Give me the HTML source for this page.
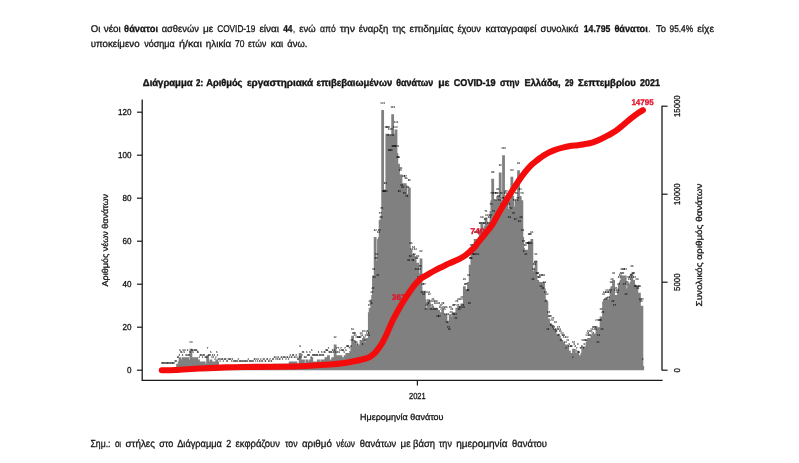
<!DOCTYPE html>
<html lang="el"><head><meta charset="utf-8"><title>Διάγραμμα 2</title>
<style>
html,body{margin:0;padding:0;background:#fff}
body{width:799px;height:463px;overflow:hidden;font-family:"Liberation Sans",sans-serif}
svg{display:block;will-change:transform;text-rendering:geometricPrecision;font-family:"Liberation Sans",sans-serif}
svg text{fill:#151515;stroke:#151515}
svg{stroke-width:.3px}
.lab text{font-size:2.8px;fill:#000;fill-opacity:.9;stroke:none;text-anchor:middle;font-weight:bold}
.red{fill:#e3122b;stroke:#e3122b;font-weight:bold}
</style></head><body>
<svg width="799" height="463" viewBox="0 0 799 463">
<rect width="799" height="463" fill="#fff"/>
<g><text x="90.7" y="32.0" font-size="9.8" font-weight="normal" textLength="9.6" lengthAdjust="spacingAndGlyphs">Οι</text><text x="103.7" y="32.0" font-size="9.8" font-weight="normal" textLength="17.1" lengthAdjust="spacingAndGlyphs">νέοι</text><text x="124.1" y="32.0" font-size="9.8" font-weight="bold" textLength="33.9" lengthAdjust="spacingAndGlyphs">θάνατοι</text><text x="161.7" y="32.0" font-size="9.8" font-weight="normal" textLength="37.2" lengthAdjust="spacingAndGlyphs">ασθενών</text><text x="203.0" y="32.0" font-size="9.8" font-weight="normal" textLength="10.3" lengthAdjust="spacingAndGlyphs">με</text><text x="217.2" y="32.0" font-size="9.8" font-weight="normal" textLength="38.1" lengthAdjust="spacingAndGlyphs">COVID-19</text><text x="259.4" y="32.0" font-size="9.8" font-weight="normal" textLength="19.7" lengthAdjust="spacingAndGlyphs">είναι</text><text x="283.2" y="32.0" font-size="9.8" font-weight="bold" textLength="9.3" lengthAdjust="spacingAndGlyphs">44</text><text x="293.2" y="32.0" font-size="9.8" font-weight="normal" textLength="1.6" lengthAdjust="spacingAndGlyphs">,</text><text x="299.3" y="32.0" font-size="9.8" font-weight="normal" textLength="16.4" lengthAdjust="spacingAndGlyphs">ενώ</text><text x="320.0" y="32.0" font-size="9.8" font-weight="normal" textLength="15.7" lengthAdjust="spacingAndGlyphs">από</text><text x="339.7" y="32.0" font-size="9.8" font-weight="normal" textLength="15.3" lengthAdjust="spacingAndGlyphs">την</text><text x="358.8" y="32.0" font-size="9.8" font-weight="normal" textLength="29.6" lengthAdjust="spacingAndGlyphs">έναρξη</text><text x="392.2" y="32.0" font-size="9.8" font-weight="normal" textLength="13.4" lengthAdjust="spacingAndGlyphs">της</text><text x="409.5" y="32.0" font-size="9.8" font-weight="normal" textLength="44.1" lengthAdjust="spacingAndGlyphs">επιδημίας</text><text x="457.4" y="32.0" font-size="9.8" font-weight="normal" textLength="23.6" lengthAdjust="spacingAndGlyphs">έχουν</text><text x="485.5" y="32.0" font-size="9.8" font-weight="normal" textLength="51.0" lengthAdjust="spacingAndGlyphs">καταγραφεί</text><text x="540.6" y="32.0" font-size="9.8" font-weight="normal" textLength="37.8" lengthAdjust="spacingAndGlyphs">συνολικά</text><text x="583.7" y="32.0" font-size="9.8" font-weight="bold" textLength="26.7" lengthAdjust="spacingAndGlyphs">14.795</text><text x="614.4" y="32.0" font-size="9.8" font-weight="bold" textLength="33.4" lengthAdjust="spacingAndGlyphs">θάνατοι</text><text x="648.6" y="32.0" font-size="9.8" font-weight="normal" textLength="1.6" lengthAdjust="spacingAndGlyphs">.</text><text x="656.0" y="32.0" font-size="9.8" font-weight="normal" textLength="10.0" lengthAdjust="spacingAndGlyphs">Το</text><text x="669.5" y="32.0" font-size="9.8" font-weight="normal" textLength="23.6" lengthAdjust="spacingAndGlyphs">95.4%</text><text x="697.2" y="32.0" font-size="9.8" font-weight="normal" textLength="16.9" lengthAdjust="spacingAndGlyphs">είχε</text><text x="90.7" y="47.0" font-size="9.8" font-weight="normal" textLength="48.9" lengthAdjust="spacingAndGlyphs">υποκείμενο</text><text x="144.2" y="47.0" font-size="9.8" font-weight="normal" textLength="30.6" lengthAdjust="spacingAndGlyphs">νόσημα</text><text x="178.9" y="47.0" font-size="9.8" font-weight="normal" textLength="22.9" lengthAdjust="spacingAndGlyphs">ή/και</text><text x="205.8" y="47.0" font-size="9.8" font-weight="normal" textLength="25.4" lengthAdjust="spacingAndGlyphs">ηλικία</text><text x="235.0" y="47.0" font-size="9.8" font-weight="normal" textLength="9.4" lengthAdjust="spacingAndGlyphs">70</text><text x="248.0" y="47.0" font-size="9.8" font-weight="normal" textLength="18.3" lengthAdjust="spacingAndGlyphs">ετών</text><text x="270.7" y="47.0" font-size="9.8" font-weight="normal" textLength="12.4" lengthAdjust="spacingAndGlyphs">και</text><text x="287.3" y="47.0" font-size="9.8" font-weight="normal" textLength="20.1" lengthAdjust="spacingAndGlyphs">άνω.</text><g stroke-width=".4"><text x="142.8" y="86.4" font-size="9.9" font-weight="bold" textLength="49.8" lengthAdjust="spacingAndGlyphs">Διάγραμμα</text><text x="196.0" y="86.4" font-size="9.9" font-weight="bold" textLength="7.1" lengthAdjust="spacingAndGlyphs">2:</text><text x="206.2" y="86.4" font-size="9.9" font-weight="bold" textLength="36.2" lengthAdjust="spacingAndGlyphs">Αριθμός</text><text x="246.9" y="86.4" font-size="9.9" font-weight="bold" textLength="66.3" lengthAdjust="spacingAndGlyphs">εργαστηριακά</text><text x="316.5" y="86.4" font-size="9.9" font-weight="bold" textLength="75.7" lengthAdjust="spacingAndGlyphs">επιβεβαιωμένων</text><text x="396.2" y="86.4" font-size="9.9" font-weight="bold" textLength="37.0" lengthAdjust="spacingAndGlyphs">θανάτων</text><text x="438.2" y="86.4" font-size="9.9" font-weight="bold" textLength="11.3" lengthAdjust="spacingAndGlyphs">με</text><text x="453.8" y="86.4" font-size="9.9" font-weight="bold" textLength="41.8" lengthAdjust="spacingAndGlyphs">COVID-19</text><text x="500.0" y="86.4" font-size="9.9" font-weight="bold" textLength="19.4" lengthAdjust="spacingAndGlyphs">στην</text><text x="524.4" y="86.4" font-size="9.9" font-weight="bold" textLength="36.3" lengthAdjust="spacingAndGlyphs">Ελλάδα,</text><text x="565.1" y="86.4" font-size="9.9" font-weight="bold" textLength="8.4" lengthAdjust="spacingAndGlyphs">29</text><text x="578.1" y="86.4" font-size="9.9" font-weight="bold" textLength="57.6" lengthAdjust="spacingAndGlyphs">Σεπτεμβρίου</text><text x="640.1" y="86.4" font-size="9.9" font-weight="bold" textLength="19.8" lengthAdjust="spacingAndGlyphs">2021</text></g><text x="90.5" y="446.8" font-size="10.2" font-weight="normal" textLength="20.0" lengthAdjust="spacingAndGlyphs">Σημ.:</text><text x="114.9" y="446.8" font-size="10.2" font-weight="normal" textLength="6.2" lengthAdjust="spacingAndGlyphs">οι</text><text x="125.5" y="446.8" font-size="10.2" font-weight="normal" textLength="29.4" lengthAdjust="spacingAndGlyphs">στήλες</text><text x="159.3" y="446.8" font-size="10.2" font-weight="normal" textLength="14.0" lengthAdjust="spacingAndGlyphs">στο</text><text x="177.2" y="446.8" font-size="10.2" font-weight="normal" textLength="44.7" lengthAdjust="spacingAndGlyphs">Διάγραμμα</text><text x="226.3" y="446.8" font-size="10.2" font-weight="normal" textLength="4.9" lengthAdjust="spacingAndGlyphs">2</text><text x="235.6" y="446.8" font-size="10.2" font-weight="normal" textLength="44.4" lengthAdjust="spacingAndGlyphs">εκφράζουν</text><text x="285.0" y="446.8" font-size="10.2" font-weight="normal" textLength="12.5" lengthAdjust="spacingAndGlyphs">τον</text><text x="301.9" y="446.8" font-size="10.2" font-weight="normal" textLength="30.0" lengthAdjust="spacingAndGlyphs">αριθμό</text><text x="336.3" y="446.8" font-size="10.2" font-weight="normal" textLength="18.7" lengthAdjust="spacingAndGlyphs">νέων</text><text x="359.8" y="446.8" font-size="10.2" font-weight="normal" textLength="36.5" lengthAdjust="spacingAndGlyphs">θανάτων</text><text x="400.6" y="446.8" font-size="10.2" font-weight="normal" textLength="10.0" lengthAdjust="spacingAndGlyphs">με</text><text x="413.1" y="446.8" font-size="10.2" font-weight="normal" textLength="21.9" lengthAdjust="spacingAndGlyphs">βάση</text><text x="438.8" y="446.8" font-size="10.2" font-weight="normal" textLength="13.1" lengthAdjust="spacingAndGlyphs">την</text><text x="456.2" y="446.8" font-size="10.2" font-weight="normal" textLength="51.4" lengthAdjust="spacingAndGlyphs">ημερομηνία</text><text x="512.0" y="446.8" font-size="10.2" font-weight="normal" textLength="35.0" lengthAdjust="spacingAndGlyphs">θανάτου</text></g>
<g stroke="#808080" stroke-width="2.8" fill="none"><path d="M175.09 370.20v-2.15M175.92 370.20v-2.15M176.75 370.20v-2.15M177.59 370.20v-6.45M178.42 370.20v-6.45M179.26 370.20v-8.60M180.09 370.20v-12.90M180.92 370.20v-10.75M181.76 370.20v-10.75M182.59 370.20v-8.60M183.42 370.20v-12.90M184.26 370.20v-10.75M185.09 370.20v-12.90M185.92 370.20v-8.60M186.76 370.20v-8.60M187.59 370.20v-12.90M188.43 370.20v-8.60M189.26 370.20v-8.60M190.09 370.20v-10.75M190.93 370.20v-21.50M191.76 370.20v-12.90M192.59 370.20v-12.90M193.43 370.20v-10.75M194.26 370.20v-12.90M195.09 370.20v-12.90M195.93 370.20v-12.90M196.76 370.20v-12.90M197.59 370.20v-10.75M198.43 370.20v-10.75M199.26 370.20v-6.45M200.10 370.20v-8.60M200.93 370.20v-8.60M201.76 370.20v-8.60M202.60 370.20v-6.45M203.43 370.20v-8.60M204.26 370.20v-8.60M205.10 370.20v-6.45M205.93 370.20v-6.45M206.76 370.20v-6.45M207.60 370.20v-15.05M208.43 370.20v-8.60M209.27 370.20v-8.60M210.10 370.20v-8.60M210.93 370.20v-10.75M211.77 370.20v-6.45M212.60 370.20v-8.60M213.43 370.20v-6.45M214.27 370.20v-8.60M215.10 370.20v-4.30M215.93 370.20v-6.45M216.77 370.20v-10.75M217.60 370.20v-8.60M218.43 370.20v-4.30M219.27 370.20v-4.30M220.10 370.20v-2.15M220.94 370.20v-4.30M221.77 370.20v-4.30M222.60 370.20v-4.30M223.44 370.20v-2.15M224.27 370.20v-4.30M225.10 370.20v-4.30M225.94 370.20v-4.30M226.77 370.20v-2.15M227.60 370.20v-2.15M228.44 370.20v-4.30M229.27 370.20v-4.30M230.11 370.20v-4.30M230.94 370.20v-4.30M231.77 370.20v-2.15M232.61 370.20v-4.30M233.44 370.20v-2.15M234.27 370.20v-2.15M235.11 370.20v-2.15M235.94 370.20v-2.15M236.77 370.20v-2.15M237.61 370.20v-2.15M238.44 370.20v-4.30M239.27 370.20v-2.15M240.11 370.20v-2.15M240.94 370.20v-2.15M241.78 370.20v-2.15M242.61 370.20v-2.15M243.44 370.20v-2.15M244.28 370.20v-2.15M245.11 370.20v-2.15M245.94 370.20v-2.15M246.78 370.20v-2.15M247.61 370.20v-2.15M248.44 370.20v-4.30M249.28 370.20v-2.15M250.11 370.20v-2.15M250.95 370.20v-2.15M251.78 370.20v-2.15M252.61 370.20v-2.15M253.45 370.20v-2.15M254.28 370.20v-4.30M255.11 370.20v-4.30M255.95 370.20v-2.15M256.78 370.20v-4.30M257.61 370.20v-2.15M258.45 370.20v-4.30M259.28 370.20v-2.15M260.11 370.20v-2.15M260.95 370.20v-4.30M261.78 370.20v-2.15M262.62 370.20v-2.15M263.45 370.20v-4.30M264.28 370.20v-4.30M265.12 370.20v-2.15M265.95 370.20v-2.15M266.78 370.20v-4.30M267.62 370.20v-4.30M268.45 370.20v-2.15M269.28 370.20v-2.15M270.12 370.20v-4.30M270.95 370.20v-2.15M271.79 370.20v-2.15M272.62 370.20v-4.30M273.45 370.20v-4.30M274.29 370.20v-6.45M275.12 370.20v-6.45M275.95 370.20v-4.30M276.79 370.20v-6.45M277.62 370.20v-4.30M278.45 370.20v-6.45M279.29 370.20v-4.30M280.12 370.20v-4.30M280.95 370.20v-6.45M281.79 370.20v-6.45M282.62 370.20v-4.30M283.46 370.20v-6.45M284.29 370.20v-6.45M285.12 370.20v-6.45M285.96 370.20v-4.30M286.79 370.20v-6.45M287.62 370.20v-6.45M288.46 370.20v-4.30M289.29 370.20v-6.45M290.12 370.20v-8.60M290.96 370.20v-6.45M291.79 370.20v-6.45M292.63 370.20v-8.60M293.46 370.20v-8.60M294.29 370.20v-6.45M295.13 370.20v-6.45M295.96 370.20v-8.60M296.79 370.20v-6.45M297.63 370.20v-4.30M298.46 370.20v-4.30M299.29 370.20v-6.45M300.13 370.20v-17.20M300.96 370.20v-6.45M301.79 370.20v-8.60M302.63 370.20v-10.75M303.46 370.20v-10.75M304.30 370.20v-6.45M305.13 370.20v-6.45M305.96 370.20v-6.45M306.80 370.20v-10.75M307.63 370.20v-8.60M308.46 370.20v-8.60M309.30 370.20v-8.60M310.13 370.20v-10.75M310.96 370.20v-6.45M311.80 370.20v-12.90M312.63 370.20v-8.60M313.47 370.20v-8.60M314.30 370.20v-8.60M315.13 370.20v-8.60M315.97 370.20v-8.60M316.80 370.20v-8.60M317.63 370.20v-8.60M318.47 370.20v-10.75M319.30 370.20v-8.60M320.13 370.20v-8.60M320.97 370.20v-8.60M321.80 370.20v-10.75M322.63 370.20v-8.60M323.47 370.20v-8.60M324.30 370.20v-10.75M325.14 370.20v-10.75M325.97 370.20v-12.90M326.80 370.20v-12.90M327.64 370.20v-12.90M328.47 370.20v-15.05M329.30 370.20v-10.75M330.14 370.20v-10.75M330.97 370.20v-10.75M331.80 370.20v-10.75M332.64 370.20v-12.90M333.47 370.20v-10.75M334.31 370.20v-12.90M335.14 370.20v-25.80M335.97 370.20v-10.75M336.81 370.20v-15.05M337.64 370.20v-10.75M338.47 370.20v-15.05M339.31 370.20v-10.75M340.14 370.20v-12.90M340.97 370.20v-15.05M341.81 370.20v-12.90M342.64 370.20v-12.90M343.47 370.20v-12.90M344.31 370.20v-10.75M345.14 370.20v-15.05M345.98 370.20v-12.90M346.81 370.20v-17.20M347.64 370.20v-17.20M348.48 370.20v-17.20M349.31 370.20v-15.05M350.14 370.20v-10.75M350.98 370.20v-17.20M351.81 370.20v-23.65M352.64 370.20v-34.40M353.48 370.20v-30.10M354.31 370.20v-30.10M355.15 370.20v-27.95M355.98 370.20v-21.50M356.81 370.20v-25.80M357.65 370.20v-19.35M358.48 370.20v-25.80M359.31 370.20v-25.80M360.15 370.20v-25.80M360.98 370.20v-30.10M361.81 370.20v-27.95M362.65 370.20v-19.35M363.48 370.20v-32.25M364.31 370.20v-25.80M365.15 370.20v-23.65M365.98 370.20v-27.95M366.82 370.20v-32.25M367.65 370.20v-30.10M368.48 370.20v-27.95M369.32 370.20v-58.05M370.15 370.20v-62.35M370.98 370.20v-60.20M371.82 370.20v-70.95M372.65 370.20v-75.25M373.48 370.20v-94.60M374.32 370.20v-86.00M375.15 370.20v-133.30M375.99 370.20v-105.35M376.82 370.20v-109.65M377.65 370.20v-88.15M378.49 370.20v-131.15M379.32 370.20v-133.30M380.15 370.20v-150.50M380.99 370.20v-146.20M381.82 370.20v-154.80M382.65 370.20v-260.15M383.49 370.20v-172.00M384.32 370.20v-172.00M385.15 370.20v-180.60M385.99 370.20v-172.00M386.82 370.20v-236.50M387.66 370.20v-236.50M388.49 370.20v-227.90M389.32 370.20v-212.85M390.16 370.20v-234.35M390.99 370.20v-212.85M391.82 370.20v-227.90M392.66 370.20v-255.85M393.49 370.20v-217.15M394.32 370.20v-217.15M395.16 370.20v-236.50M395.99 370.20v-240.80M396.83 370.20v-217.15M397.66 370.20v-206.40M398.49 370.20v-206.40M399.33 370.20v-172.00M400.16 370.20v-193.50M400.99 370.20v-195.65M401.83 370.20v-178.45M402.66 370.20v-176.30M403.49 370.20v-187.05M404.33 370.20v-169.85M405.16 370.20v-187.05M405.99 370.20v-184.90M406.83 370.20v-167.70M407.66 370.20v-176.30M408.50 370.20v-103.20M409.33 370.20v-182.75M410.16 370.20v-107.50M411.00 370.20v-120.40M411.83 370.20v-113.95M412.66 370.20v-103.20M413.50 370.20v-116.10M414.33 370.20v-109.65M415.16 370.20v-113.95M416.00 370.20v-94.60M416.83 370.20v-105.35M417.67 370.20v-107.50M418.50 370.20v-86.00M419.33 370.20v-94.60M420.17 370.20v-96.75M421.00 370.20v-111.80M421.83 370.20v-70.95M422.67 370.20v-79.55M423.50 370.20v-68.80M424.33 370.20v-79.55M425.17 370.20v-70.95M426.00 370.20v-53.75M426.83 370.20v-58.05M427.67 370.20v-60.20M428.50 370.20v-70.95M429.34 370.20v-68.80M430.17 370.20v-62.35M431.00 370.20v-53.75M431.84 370.20v-58.05M432.67 370.20v-64.50M433.50 370.20v-62.35M434.34 370.20v-53.75M435.17 370.20v-60.20M436.00 370.20v-62.35M436.84 370.20v-53.75M437.67 370.20v-47.30M438.51 370.20v-60.20M439.34 370.20v-47.30M440.17 370.20v-55.90M441.01 370.20v-58.05M441.84 370.20v-53.75M442.67 370.20v-60.20M443.51 370.20v-55.90M444.34 370.20v-53.75M445.17 370.20v-49.45M446.01 370.20v-55.90M446.84 370.20v-40.85M447.67 370.20v-49.45M448.51 370.20v-36.55M449.34 370.20v-34.40M450.18 370.20v-55.90M451.01 370.20v-51.60M451.84 370.20v-53.75M452.68 370.20v-49.45M453.51 370.20v-58.05M454.34 370.20v-58.05M455.18 370.20v-49.45M456.01 370.20v-45.15M456.84 370.20v-62.35M457.68 370.20v-58.05M458.51 370.20v-64.50M459.35 370.20v-53.75M460.18 370.20v-55.90M461.01 370.20v-64.50M461.85 370.20v-66.65M462.68 370.20v-58.05M463.51 370.20v-55.90M464.35 370.20v-83.85M465.18 370.20v-79.55M466.01 370.20v-79.55M466.85 370.20v-73.10M467.68 370.20v-73.10M468.51 370.20v-88.15M469.35 370.20v-60.20M470.18 370.20v-105.35M471.02 370.20v-105.35M471.85 370.20v-118.25M472.68 370.20v-118.25M473.52 370.20v-109.65M474.35 370.20v-109.65M475.18 370.20v-131.15M476.02 370.20v-118.25M476.85 370.20v-131.15M477.68 370.20v-109.65M478.52 370.20v-122.55M479.35 370.20v-133.30M480.19 370.20v-139.75M481.02 370.20v-139.75M481.85 370.20v-146.20M482.69 370.20v-124.70M483.52 370.20v-139.75M484.35 370.20v-139.75M485.19 370.20v-144.05M486.02 370.20v-152.65M486.85 370.20v-148.35M487.69 370.20v-135.45M488.52 370.20v-139.75M489.35 370.20v-146.20M490.19 370.20v-148.35M491.02 370.20v-159.10M491.86 370.20v-169.85M492.69 370.20v-191.35M493.52 370.20v-152.65M494.36 370.20v-169.85M495.19 370.20v-163.40M496.02 370.20v-169.85M496.86 370.20v-169.85M497.69 370.20v-174.15M498.52 370.20v-167.70M499.36 370.20v-163.40M500.19 370.20v-197.80M501.03 370.20v-169.85M501.86 370.20v-159.10M502.69 370.20v-165.55M503.53 370.20v-215.00M504.36 370.20v-165.55M505.19 370.20v-169.85M506.03 370.20v-172.00M506.86 370.20v-167.70M507.69 370.20v-161.25M508.53 370.20v-159.10M509.36 370.20v-146.20M510.19 370.20v-169.85M511.03 370.20v-154.80M511.86 370.20v-193.50M512.70 370.20v-174.15M513.53 370.20v-150.50M514.36 370.20v-163.40M515.20 370.20v-144.05M516.03 370.20v-169.85M516.86 370.20v-163.40M517.70 370.20v-165.55M518.53 370.20v-199.95M519.36 370.20v-141.90M520.20 370.20v-174.15M521.03 370.20v-146.20M521.87 370.20v-169.85M522.70 370.20v-133.30M523.53 370.20v-122.55M524.37 370.20v-111.80M525.20 370.20v-118.25M526.03 370.20v-109.65M526.87 370.20v-120.40M527.70 370.20v-120.40M528.53 370.20v-120.40M529.37 370.20v-129.00M530.20 370.20v-129.00M531.03 370.20v-120.40M531.87 370.20v-131.15M532.70 370.20v-83.85M533.54 370.20v-94.60M534.37 370.20v-98.90M535.20 370.20v-101.05M536.04 370.20v-109.65M536.87 370.20v-90.30M537.70 370.20v-90.30M538.54 370.20v-86.00M539.37 370.20v-86.00M540.20 370.20v-88.15M541.04 370.20v-77.40M541.87 370.20v-88.15M542.71 370.20v-75.25M543.54 370.20v-88.15M544.37 370.20v-81.70M545.21 370.20v-70.95M546.04 370.20v-62.35M546.87 370.20v-68.80M547.71 370.20v-34.40M548.54 370.20v-51.60M549.37 370.20v-47.30M550.21 370.20v-47.30M551.04 370.20v-38.70M551.87 370.20v-43.00M552.71 370.20v-45.15M553.54 370.20v-36.55M554.38 370.20v-34.40M555.21 370.20v-40.85M556.04 370.20v-32.25M556.88 370.20v-34.40M557.71 370.20v-27.95M558.54 370.20v-36.55M559.38 370.20v-34.40M560.21 370.20v-32.25M561.04 370.20v-23.65M561.88 370.20v-30.10M562.71 370.20v-27.95M563.55 370.20v-27.95M564.38 370.20v-25.80M565.21 370.20v-21.50M566.05 370.20v-15.05M566.88 370.20v-25.80M567.71 370.20v-23.65M568.55 370.20v-17.20M569.38 370.20v-19.35M570.21 370.20v-17.20M571.05 370.20v-17.20M571.88 370.20v-17.20M572.71 370.20v-6.45M573.55 370.20v-21.50M574.38 370.20v-19.35M575.22 370.20v-17.20M576.05 370.20v-12.90M576.88 370.20v-15.05M577.72 370.20v-19.35M578.55 370.20v-10.75M579.38 370.20v-10.75M580.22 370.20v-15.05M581.05 370.20v-15.05M581.88 370.20v-17.20M582.72 370.20v-23.65M583.55 370.20v-15.05M584.39 370.20v-19.35M585.22 370.20v-23.65M586.05 370.20v-23.65M586.89 370.20v-27.95M587.72 370.20v-30.10M588.55 370.20v-32.25M589.39 370.20v-27.95M590.22 370.20v-27.95M591.05 370.20v-32.25M591.89 370.20v-34.40M592.72 370.20v-30.10M593.55 370.20v-36.55M594.39 370.20v-36.55M595.22 370.20v-34.40M596.06 370.20v-36.55M596.89 370.20v-43.00M597.72 370.20v-21.50M598.56 370.20v-27.95M599.39 370.20v-43.00M600.22 370.20v-43.00M601.06 370.20v-53.75M601.89 370.20v-34.40M602.72 370.20v-51.60M603.56 370.20v-68.80M604.39 370.20v-70.95M605.23 370.20v-64.50M606.06 370.20v-70.95M606.89 370.20v-73.10M607.73 370.20v-70.95M608.56 370.20v-66.65M609.39 370.20v-70.95M610.23 370.20v-73.10M611.06 370.20v-81.70M611.89 370.20v-83.85M612.73 370.20v-62.35M613.56 370.20v-90.30M614.39 370.20v-58.05M615.23 370.20v-73.10M616.06 370.20v-75.25M616.90 370.20v-70.95M617.73 370.20v-73.10M618.56 370.20v-79.55M619.40 370.20v-86.00M620.23 370.20v-88.15M621.06 370.20v-90.30M621.90 370.20v-94.60M622.73 370.20v-90.30M623.56 370.20v-94.60M624.40 370.20v-79.55M625.23 370.20v-94.60M626.07 370.20v-68.80M626.90 370.20v-81.70M627.73 370.20v-79.55M628.57 370.20v-86.00M629.40 370.20v-83.85M630.23 370.20v-86.00M631.07 370.20v-88.15M631.90 370.20v-96.75M632.73 370.20v-90.30M633.57 370.20v-90.30M634.40 370.20v-86.00M635.23 370.20v-77.40M636.07 370.20v-77.40M636.90 370.20v-83.85M637.74 370.20v-75.25M638.57 370.20v-77.40M639.40 370.20v-77.40M640.24 370.20v-64.50M641.07 370.20v-62.35M641.90 370.20v-64.50M642.74 370.20v-4.30"/></g>
<g class="lab"><text x="161.8" y="364.2">0</text><text x="162.6" y="364.2">0</text><text x="163.4" y="364.2">0</text><text x="164.3" y="364.2">0</text><text x="165.1" y="364.2">0</text><text x="165.9" y="364.2">0</text><text x="166.8" y="364.2">0</text><text x="167.6" y="364.2">0</text><text x="168.4" y="364.2">0</text><text x="169.3" y="364.2">0</text><text x="170.1" y="364.2">0</text><text x="170.9" y="364.2">0</text><text x="171.8" y="364.2">0</text><text x="172.6" y="364.2">0</text><text x="173.4" y="364.2">0</text><text x="174.3" y="364.2">0</text><text x="175.1" y="362.1">1</text><text x="175.9" y="362.1">1</text><text x="176.8" y="362.1">1</text><text x="177.6" y="357.8">3</text><text x="178.4" y="357.8">3</text><text x="179.3" y="355.6">4</text><text x="180.1" y="351.3">6</text><text x="180.9" y="353.4">5</text><text x="181.8" y="353.4">5</text><text x="182.6" y="355.6">4</text><text x="183.4" y="351.3">6</text><text x="184.3" y="353.4">5</text><text x="185.1" y="351.3">6</text><text x="185.9" y="355.6">4</text><text x="186.8" y="355.6">4</text><text x="187.6" y="351.3">6</text><text x="188.4" y="355.6">4</text><text x="189.3" y="355.6">4</text><text x="190.1" y="353.4">5</text><text x="190.9" y="342.7">10</text><text x="191.8" y="351.3">6</text><text x="192.6" y="351.3">6</text><text x="193.4" y="353.4">5</text><text x="194.3" y="351.3">6</text><text x="195.1" y="351.3">6</text><text x="195.9" y="351.3">6</text><text x="196.8" y="351.3">6</text><text x="197.6" y="353.4">5</text><text x="198.4" y="353.4">5</text><text x="199.3" y="357.8">3</text><text x="200.1" y="355.6">4</text><text x="200.9" y="355.6">4</text><text x="201.8" y="355.6">4</text><text x="202.6" y="357.8">3</text><text x="203.4" y="355.6">4</text><text x="204.3" y="355.6">4</text><text x="205.1" y="357.8">3</text><text x="205.9" y="357.8">3</text><text x="206.8" y="357.8">3</text><text x="207.6" y="349.1">7</text><text x="208.4" y="355.6">4</text><text x="209.3" y="355.6">4</text><text x="210.1" y="355.6">4</text><text x="210.9" y="353.4">5</text><text x="211.8" y="357.8">3</text><text x="212.6" y="355.6">4</text><text x="213.4" y="357.8">3</text><text x="214.3" y="355.6">4</text><text x="215.1" y="359.9">2</text><text x="215.9" y="357.8">3</text><text x="216.8" y="353.4">5</text><text x="217.6" y="355.6">4</text><text x="218.4" y="359.9">2</text><text x="219.3" y="359.9">2</text><text x="220.1" y="362.1">1</text><text x="220.9" y="359.9">2</text><text x="221.8" y="359.9">2</text><text x="222.6" y="359.9">2</text><text x="223.4" y="362.1">1</text><text x="224.3" y="359.9">2</text><text x="225.1" y="359.9">2</text><text x="225.9" y="359.9">2</text><text x="226.8" y="362.1">1</text><text x="227.6" y="362.1">1</text><text x="228.4" y="359.9">2</text><text x="229.3" y="359.9">2</text><text x="230.1" y="359.9">2</text><text x="230.9" y="359.9">2</text><text x="231.8" y="362.1">1</text><text x="232.6" y="359.9">2</text><text x="233.4" y="362.1">1</text><text x="234.3" y="362.1">1</text><text x="235.1" y="362.1">1</text><text x="235.9" y="362.1">1</text><text x="236.8" y="362.1">1</text><text x="237.6" y="362.1">1</text><text x="238.4" y="359.9">2</text><text x="239.3" y="362.1">1</text><text x="240.1" y="362.1">1</text><text x="240.9" y="362.1">1</text><text x="241.8" y="362.1">1</text><text x="242.6" y="362.1">1</text><text x="243.4" y="362.1">1</text><text x="244.3" y="362.1">1</text><text x="245.1" y="362.1">1</text><text x="245.9" y="362.1">1</text><text x="246.8" y="362.1">1</text><text x="247.6" y="362.1">1</text><text x="248.4" y="359.9">2</text><text x="249.3" y="362.1">1</text><text x="250.1" y="362.1">1</text><text x="250.9" y="362.1">1</text><text x="251.8" y="362.1">1</text><text x="252.6" y="362.1">1</text><text x="253.4" y="362.1">1</text><text x="254.3" y="359.9">2</text><text x="255.1" y="359.9">2</text><text x="255.9" y="362.1">1</text><text x="256.8" y="359.9">2</text><text x="257.6" y="362.1">1</text><text x="258.4" y="359.9">2</text><text x="259.3" y="362.1">1</text><text x="260.1" y="362.1">1</text><text x="260.9" y="359.9">2</text><text x="261.8" y="362.1">1</text><text x="262.6" y="362.1">1</text><text x="263.4" y="359.9">2</text><text x="264.3" y="359.9">2</text><text x="265.1" y="362.1">1</text><text x="265.9" y="362.1">1</text><text x="266.8" y="359.9">2</text><text x="267.6" y="359.9">2</text><text x="268.5" y="362.1">1</text><text x="269.3" y="362.1">1</text><text x="270.1" y="359.9">2</text><text x="271.0" y="362.1">1</text><text x="271.8" y="362.1">1</text><text x="272.6" y="359.9">2</text><text x="273.5" y="359.9">2</text><text x="274.3" y="357.8">3</text><text x="275.1" y="357.8">3</text><text x="276.0" y="359.9">2</text><text x="276.8" y="357.8">3</text><text x="277.6" y="359.9">2</text><text x="278.5" y="357.8">3</text><text x="279.3" y="359.9">2</text><text x="280.1" y="359.9">2</text><text x="281.0" y="357.8">3</text><text x="281.8" y="357.8">3</text><text x="282.6" y="359.9">2</text><text x="283.5" y="357.8">3</text><text x="284.3" y="357.8">3</text><text x="285.1" y="357.8">3</text><text x="286.0" y="359.9">2</text><text x="286.8" y="357.8">3</text><text x="287.6" y="357.8">3</text><text x="288.5" y="359.9">2</text><text x="289.3" y="357.8">3</text><text x="290.1" y="355.6">4</text><text x="291.0" y="357.8">3</text><text x="291.8" y="357.8">3</text><text x="292.6" y="355.6">4</text><text x="293.5" y="355.6">4</text><text x="294.3" y="357.8">3</text><text x="295.1" y="357.8">3</text><text x="296.0" y="355.6">4</text><text x="296.8" y="357.8">3</text><text x="297.6" y="359.9">2</text><text x="298.5" y="359.9">2</text><text x="299.3" y="357.8">3</text><text x="300.1" y="347.0">8</text><text x="301.0" y="357.8">3</text><text x="301.8" y="355.6">4</text><text x="302.6" y="353.4">5</text><text x="303.5" y="353.4">5</text><text x="304.3" y="357.8">3</text><text x="305.1" y="357.8">3</text><text x="306.0" y="357.8">3</text><text x="306.8" y="353.4">5</text><text x="307.6" y="355.6">4</text><text x="308.5" y="355.6">4</text><text x="309.3" y="355.6">4</text><text x="310.1" y="353.4">5</text><text x="311.0" y="357.8">3</text><text x="311.8" y="351.3">6</text><text x="312.6" y="355.6">4</text><text x="313.5" y="355.6">4</text><text x="314.3" y="355.6">4</text><text x="315.1" y="355.6">4</text><text x="316.0" y="355.6">4</text><text x="316.8" y="355.6">4</text><text x="317.6" y="355.6">4</text><text x="318.5" y="353.4">5</text><text x="319.3" y="355.6">4</text><text x="320.1" y="355.6">4</text><text x="321.0" y="355.6">4</text><text x="321.8" y="353.4">5</text><text x="322.6" y="355.6">4</text><text x="323.5" y="355.6">4</text><text x="324.3" y="353.4">5</text><text x="325.1" y="353.4">5</text><text x="326.0" y="351.3">6</text><text x="326.8" y="351.3">6</text><text x="327.6" y="351.3">6</text><text x="328.5" y="349.1">7</text><text x="329.3" y="353.4">5</text><text x="330.1" y="353.4">5</text><text x="331.0" y="353.4">5</text><text x="331.8" y="353.4">5</text><text x="332.6" y="351.3">6</text><text x="333.5" y="353.4">5</text><text x="334.3" y="351.3">6</text><text x="335.1" y="338.4">12</text><text x="336.0" y="353.4">5</text><text x="336.8" y="349.1">7</text><text x="337.6" y="353.4">5</text><text x="338.5" y="349.1">7</text><text x="339.3" y="353.4">5</text><text x="340.1" y="351.3">6</text><text x="341.0" y="349.1">7</text><text x="341.8" y="351.3">6</text><text x="342.6" y="351.3">6</text><text x="343.5" y="351.3">6</text><text x="344.3" y="353.4">5</text><text x="345.1" y="349.1">7</text><text x="346.0" y="351.3">6</text><text x="346.8" y="347.0">8</text><text x="347.6" y="347.0">8</text><text x="348.5" y="347.0">8</text><text x="349.3" y="349.1">7</text><text x="350.1" y="353.4">5</text><text x="351.0" y="347.0">8</text><text x="351.8" y="340.6">11</text><text x="352.6" y="329.8">16</text><text x="353.5" y="334.1">14</text><text x="354.3" y="334.1">14</text><text x="355.1" y="336.2">13</text><text x="356.0" y="342.7">10</text><text x="356.8" y="338.4">12</text><text x="357.6" y="344.8">9</text><text x="358.5" y="338.4">12</text><text x="359.3" y="338.4">12</text><text x="360.1" y="338.4">12</text><text x="361.0" y="334.1">14</text><text x="361.8" y="336.2">13</text><text x="362.6" y="344.8">9</text><text x="363.5" y="331.9">15</text><text x="364.3" y="338.4">12</text><text x="365.1" y="340.6">11</text><text x="366.0" y="336.2">13</text><text x="366.8" y="331.9">15</text><text x="367.6" y="334.1">14</text><text x="368.5" y="336.2">13</text><text x="369.3" y="306.1">27</text><text x="370.1" y="301.9">29</text><text x="371.0" y="304.0">28</text><text x="371.8" y="293.2">33</text><text x="372.7" y="288.9">35</text><text x="373.5" y="269.6">44</text><text x="374.3" y="278.2">40</text><text x="375.2" y="230.9">62</text><text x="376.0" y="258.9">49</text><text x="376.8" y="254.6">51</text><text x="377.7" y="276.1">41</text><text x="378.5" y="233.0">61</text><text x="379.3" y="230.9">62</text><text x="380.2" y="213.7">70</text><text x="381.0" y="218.0">68</text><text x="381.8" y="209.4">72</text><text x="382.7" y="104.1">121</text><text x="383.5" y="192.2">80</text><text x="384.3" y="192.2">80</text><text x="385.2" y="183.6">84</text><text x="386.0" y="192.2">80</text><text x="386.8" y="127.7">110</text><text x="387.7" y="127.7">110</text><text x="388.5" y="136.3">106</text><text x="389.3" y="151.3">99</text><text x="390.2" y="129.8">109</text><text x="391.0" y="151.3">99</text><text x="391.8" y="136.3">106</text><text x="392.7" y="108.3">119</text><text x="393.5" y="147.1">101</text><text x="394.3" y="147.1">101</text><text x="395.2" y="127.7">110</text><text x="396.0" y="123.4">112</text><text x="396.8" y="147.1">101</text><text x="397.7" y="157.8">96</text><text x="398.5" y="157.8">96</text><text x="399.3" y="192.2">80</text><text x="400.2" y="170.7">90</text><text x="401.0" y="168.5">91</text><text x="401.8" y="185.8">83</text><text x="402.7" y="187.9">82</text><text x="403.5" y="177.2">87</text><text x="404.3" y="194.3">79</text><text x="405.2" y="177.2">87</text><text x="406.0" y="179.3">86</text><text x="406.8" y="196.5">78</text><text x="407.7" y="187.9">82</text><text x="408.5" y="261.0">48</text><text x="409.3" y="181.4">85</text><text x="410.2" y="256.7">50</text><text x="411.0" y="243.8">56</text><text x="411.8" y="250.2">53</text><text x="412.7" y="261.0">48</text><text x="413.5" y="248.1">54</text><text x="414.3" y="254.6">51</text><text x="415.2" y="250.2">53</text><text x="416.0" y="269.6">44</text><text x="416.8" y="258.9">49</text><text x="417.7" y="256.7">50</text><text x="418.5" y="278.2">40</text><text x="419.3" y="269.6">44</text><text x="420.2" y="267.4">45</text><text x="421.0" y="252.4">52</text><text x="421.8" y="293.2">33</text><text x="422.7" y="284.6">37</text><text x="423.5" y="295.4">32</text><text x="424.3" y="284.6">37</text><text x="425.2" y="293.2">33</text><text x="426.0" y="310.4">25</text><text x="426.8" y="306.1">27</text><text x="427.7" y="304.0">28</text><text x="428.5" y="293.2">33</text><text x="429.3" y="295.4">32</text><text x="430.2" y="301.9">29</text><text x="431.0" y="310.4">25</text><text x="431.8" y="306.1">27</text><text x="432.7" y="299.7">30</text><text x="433.5" y="301.9">29</text><text x="434.3" y="310.4">25</text><text x="435.2" y="304.0">28</text><text x="436.0" y="301.9">29</text><text x="436.8" y="310.4">25</text><text x="437.7" y="316.9">22</text><text x="438.5" y="304.0">28</text><text x="439.3" y="316.9">22</text><text x="440.2" y="308.3">26</text><text x="441.0" y="306.1">27</text><text x="441.8" y="310.4">25</text><text x="442.7" y="304.0">28</text><text x="443.5" y="308.3">26</text><text x="444.3" y="310.4">25</text><text x="445.2" y="314.8">23</text><text x="446.0" y="308.3">26</text><text x="446.8" y="323.3">19</text><text x="447.7" y="314.8">23</text><text x="448.5" y="327.6">17</text><text x="449.3" y="329.8">16</text><text x="450.2" y="308.3">26</text><text x="451.0" y="312.6">24</text><text x="451.8" y="310.4">25</text><text x="452.7" y="314.8">23</text><text x="453.5" y="306.1">27</text><text x="454.3" y="306.1">27</text><text x="455.2" y="314.8">23</text><text x="456.0" y="319.1">21</text><text x="456.8" y="301.9">29</text><text x="457.7" y="306.1">27</text><text x="458.5" y="299.7">30</text><text x="459.3" y="310.4">25</text><text x="460.2" y="308.3">26</text><text x="461.0" y="299.7">30</text><text x="461.8" y="297.6">31</text><text x="462.7" y="306.1">27</text><text x="463.5" y="308.3">26</text><text x="464.3" y="280.4">39</text><text x="465.2" y="284.6">37</text><text x="466.0" y="284.6">37</text><text x="466.8" y="291.1">34</text><text x="467.7" y="291.1">34</text><text x="468.5" y="276.1">41</text><text x="469.3" y="304.0">28</text><text x="470.2" y="258.9">49</text><text x="471.0" y="258.9">49</text><text x="471.8" y="245.9">55</text><text x="472.7" y="245.9">55</text><text x="473.5" y="254.6">51</text><text x="474.4" y="254.6">51</text><text x="475.2" y="233.0">61</text><text x="476.0" y="245.9">55</text><text x="476.9" y="233.0">61</text><text x="477.7" y="254.6">51</text><text x="478.5" y="241.6">57</text><text x="479.4" y="230.9">62</text><text x="480.2" y="224.4">65</text><text x="481.0" y="224.4">65</text><text x="481.9" y="218.0">68</text><text x="482.7" y="239.5">58</text><text x="483.5" y="224.4">65</text><text x="484.4" y="224.4">65</text><text x="485.2" y="220.2">67</text><text x="486.0" y="211.5">71</text><text x="486.9" y="215.8">69</text><text x="487.7" y="228.8">63</text><text x="488.5" y="224.4">65</text><text x="489.4" y="218.0">68</text><text x="490.2" y="215.8">69</text><text x="491.0" y="205.1">74</text><text x="491.9" y="194.3">79</text><text x="492.7" y="172.8">89</text><text x="493.5" y="211.5">71</text><text x="494.4" y="194.3">79</text><text x="495.2" y="200.8">76</text><text x="496.0" y="194.3">79</text><text x="496.9" y="194.3">79</text><text x="497.7" y="190.0">81</text><text x="498.5" y="196.5">78</text><text x="499.4" y="200.8">76</text><text x="500.2" y="166.4">92</text><text x="501.0" y="194.3">79</text><text x="501.9" y="205.1">74</text><text x="502.7" y="198.7">77</text><text x="503.5" y="149.2">100</text><text x="504.4" y="198.7">77</text><text x="505.2" y="194.3">79</text><text x="506.0" y="192.2">80</text><text x="506.9" y="196.5">78</text><text x="507.7" y="202.9">75</text><text x="508.5" y="205.1">74</text><text x="509.4" y="218.0">68</text><text x="510.2" y="194.3">79</text><text x="511.0" y="209.4">72</text><text x="511.9" y="170.7">90</text><text x="512.7" y="190.0">81</text><text x="513.5" y="213.7">70</text><text x="514.4" y="200.8">76</text><text x="515.2" y="220.2">67</text><text x="516.0" y="194.3">79</text><text x="516.9" y="200.8">76</text><text x="517.7" y="198.7">77</text><text x="518.5" y="164.2">93</text><text x="519.4" y="222.3">66</text><text x="520.2" y="190.0">81</text><text x="521.0" y="218.0">68</text><text x="521.9" y="194.3">79</text><text x="522.7" y="230.9">62</text><text x="523.5" y="241.6">57</text><text x="524.4" y="252.4">52</text><text x="525.2" y="245.9">55</text><text x="526.0" y="254.6">51</text><text x="526.9" y="243.8">56</text><text x="527.7" y="243.8">56</text><text x="528.5" y="243.8">56</text><text x="529.4" y="235.2">60</text><text x="530.2" y="235.2">60</text><text x="531.0" y="243.8">56</text><text x="531.9" y="233.0">61</text><text x="532.7" y="280.4">39</text><text x="533.5" y="269.6">44</text><text x="534.4" y="265.3">46</text><text x="535.2" y="263.1">47</text><text x="536.0" y="254.6">51</text><text x="536.9" y="273.9">42</text><text x="537.7" y="273.9">42</text><text x="538.5" y="278.2">40</text><text x="539.4" y="278.2">40</text><text x="540.2" y="276.1">41</text><text x="541.0" y="286.8">36</text><text x="541.9" y="276.1">41</text><text x="542.7" y="288.9">35</text><text x="543.5" y="276.1">41</text><text x="544.4" y="282.5">38</text><text x="545.2" y="293.2">33</text><text x="546.0" y="301.9">29</text><text x="546.9" y="295.4">32</text><text x="547.7" y="329.8">16</text><text x="548.5" y="312.6">24</text><text x="549.4" y="316.9">22</text><text x="550.2" y="316.9">22</text><text x="551.0" y="325.5">18</text><text x="551.9" y="321.2">20</text><text x="552.7" y="319.1">21</text><text x="553.5" y="327.6">17</text><text x="554.4" y="329.8">16</text><text x="555.2" y="323.3">19</text><text x="556.0" y="331.9">15</text><text x="556.9" y="329.8">16</text><text x="557.7" y="336.2">13</text><text x="558.5" y="327.6">17</text><text x="559.4" y="329.8">16</text><text x="560.2" y="331.9">15</text><text x="561.0" y="340.6">11</text><text x="561.9" y="334.1">14</text><text x="562.7" y="336.2">13</text><text x="563.5" y="336.2">13</text><text x="564.4" y="338.4">12</text><text x="565.2" y="342.7">10</text><text x="566.0" y="349.1">7</text><text x="566.9" y="338.4">12</text><text x="567.7" y="340.6">11</text><text x="568.5" y="347.0">8</text><text x="569.4" y="344.8">9</text><text x="570.2" y="347.0">8</text><text x="571.0" y="347.0">8</text><text x="571.9" y="347.0">8</text><text x="572.7" y="357.8">3</text><text x="573.5" y="342.7">10</text><text x="574.4" y="344.8">9</text><text x="575.2" y="347.0">8</text><text x="576.0" y="351.3">6</text><text x="576.9" y="349.1">7</text><text x="577.7" y="344.8">9</text><text x="578.5" y="353.4">5</text><text x="579.4" y="353.4">5</text><text x="580.2" y="349.1">7</text><text x="581.1" y="349.1">7</text><text x="581.9" y="347.0">8</text><text x="582.7" y="340.6">11</text><text x="583.6" y="349.1">7</text><text x="584.4" y="344.8">9</text><text x="585.2" y="340.6">11</text><text x="586.1" y="340.6">11</text><text x="586.9" y="336.2">13</text><text x="587.7" y="334.1">14</text><text x="588.6" y="331.9">15</text><text x="589.4" y="336.2">13</text><text x="590.2" y="336.2">13</text><text x="591.1" y="331.9">15</text><text x="591.9" y="329.8">16</text><text x="592.7" y="334.1">14</text><text x="593.6" y="327.6">17</text><text x="594.4" y="327.6">17</text><text x="595.2" y="329.8">16</text><text x="596.1" y="327.6">17</text><text x="596.9" y="321.2">20</text><text x="597.7" y="342.7">10</text><text x="598.6" y="336.2">13</text><text x="599.4" y="321.2">20</text><text x="600.2" y="321.2">20</text><text x="601.1" y="310.4">25</text><text x="601.9" y="329.8">16</text><text x="602.7" y="312.6">24</text><text x="603.6" y="295.4">32</text><text x="604.4" y="293.2">33</text><text x="605.2" y="299.7">30</text><text x="606.1" y="293.2">33</text><text x="606.9" y="291.1">34</text><text x="607.7" y="293.2">33</text><text x="608.6" y="297.6">31</text><text x="609.4" y="293.2">33</text><text x="610.2" y="291.1">34</text><text x="611.1" y="282.5">38</text><text x="611.9" y="280.4">39</text><text x="612.7" y="301.9">29</text><text x="613.6" y="273.9">42</text><text x="614.4" y="306.1">27</text><text x="615.2" y="291.1">34</text><text x="616.1" y="288.9">35</text><text x="616.9" y="293.2">33</text><text x="617.7" y="291.1">34</text><text x="618.6" y="284.6">37</text><text x="619.4" y="278.2">40</text><text x="620.2" y="276.1">41</text><text x="621.1" y="273.9">42</text><text x="621.9" y="269.6">44</text><text x="622.7" y="273.9">42</text><text x="623.6" y="269.6">44</text><text x="624.4" y="284.6">37</text><text x="625.2" y="269.6">44</text><text x="626.1" y="295.4">32</text><text x="626.9" y="282.5">38</text><text x="627.7" y="284.6">37</text><text x="628.6" y="278.2">40</text><text x="629.4" y="280.4">39</text><text x="630.2" y="278.2">40</text><text x="631.1" y="276.1">41</text><text x="631.9" y="267.4">45</text><text x="632.7" y="273.9">42</text><text x="633.6" y="273.9">42</text><text x="634.4" y="278.2">40</text><text x="635.2" y="286.8">36</text><text x="636.1" y="286.8">36</text><text x="636.9" y="280.4">39</text><text x="637.7" y="288.9">35</text><text x="638.6" y="286.8">36</text><text x="639.4" y="286.8">36</text><text x="640.2" y="299.7">30</text><text x="641.1" y="301.9">29</text><text x="641.9" y="299.7">30</text><text x="642.7" y="359.9">2</text></g>
<path d="M142.2 99.6V380.3H662.6" fill="none" stroke="#1a1a1a" stroke-width="1.3"/>
<path d="M662 105.8V370.6" fill="none" stroke="#1a1a1a" stroke-width="1.3"/>
<path d="M417.4 380.3V385.6" stroke="#1a1a1a" stroke-width="1.2"/>
<text x="126.9" y="373.2" font-size="8.6" textLength="4.5" lengthAdjust="spacingAndGlyphs">0</text><path d="M137 370.2H142.2" stroke="#1a1a1a" stroke-width="1.2"/><text x="122.4" y="330.2" font-size="8.6" textLength="9.0" lengthAdjust="spacingAndGlyphs">20</text><path d="M137 327.2H142.2" stroke="#1a1a1a" stroke-width="1.2"/><text x="122.4" y="287.2" font-size="8.6" textLength="9.0" lengthAdjust="spacingAndGlyphs">40</text><path d="M137 284.2H142.2" stroke="#1a1a1a" stroke-width="1.2"/><text x="122.4" y="244.2" font-size="8.6" textLength="9.0" lengthAdjust="spacingAndGlyphs">60</text><path d="M137 241.2H142.2" stroke="#1a1a1a" stroke-width="1.2"/><text x="122.4" y="201.2" font-size="8.6" textLength="9.0" lengthAdjust="spacingAndGlyphs">80</text><path d="M137 198.2H142.2" stroke="#1a1a1a" stroke-width="1.2"/><text x="117.9" y="158.2" font-size="8.6" textLength="13.5" lengthAdjust="spacingAndGlyphs">100</text><path d="M137 155.2H142.2" stroke="#1a1a1a" stroke-width="1.2"/><text x="117.9" y="115.2" font-size="8.6" textLength="13.5" lengthAdjust="spacingAndGlyphs">120</text><path d="M137 112.2H142.2" stroke="#1a1a1a" stroke-width="1.2"/>
<path d="M662 370.2H667.6" stroke="#1a1a1a" stroke-width="1.2"/><text transform="translate(680.4 370.2) rotate(-90)" font-size="8.6" text-anchor="middle" textLength="4.4" lengthAdjust="spacingAndGlyphs">0</text><path d="M662 282.2H667.6" stroke="#1a1a1a" stroke-width="1.2"/><text transform="translate(680.4 282.2) rotate(-90)" font-size="8.6" text-anchor="middle" textLength="17.4" lengthAdjust="spacingAndGlyphs">5000</text><path d="M662 194.2H667.6" stroke="#1a1a1a" stroke-width="1.2"/><text transform="translate(680.4 194.2) rotate(-90)" font-size="8.6" text-anchor="middle" textLength="21.6" lengthAdjust="spacingAndGlyphs">10000</text><path d="M662 106.2H667.6" stroke="#1a1a1a" stroke-width="1.2"/><text transform="translate(680.4 106.2) rotate(-90)" font-size="8.6" text-anchor="middle" textLength="21.6" lengthAdjust="spacingAndGlyphs">15000</text>
<text x="409" y="399.2" font-size="8.7" textLength="16.7" lengthAdjust="spacingAndGlyphs">2021</text>
<text x="360" y="419.6" font-size="8.8" textLength="83.5" lengthAdjust="spacingAndGlyphs">Ημερομηνία θανάτου</text>
<text transform="translate(108.2 240.2) rotate(-90)" font-size="8.6" text-anchor="middle" textLength="92.4" lengthAdjust="spacingAndGlyphs">Αριθμός νέων θανάτων</text>
<text transform="translate(701.7 245) rotate(-90)" font-size="8.6" text-anchor="middle" textLength="123" lengthAdjust="spacingAndGlyphs">Συνολικός αριθμός θανάτων</text>
<text class="red" x="391.8" y="300.2" font-size="8.3" textLength="13.9" lengthAdjust="spacingAndGlyphs">367</text>
<text class="red" x="470.2" y="233.6" font-size="8.4" textLength="14.7" lengthAdjust="spacingAndGlyphs">740</text>
<path d="M161.80 370.20 C164.00 370.17 168.63 370.28 175.00 370.00 C181.37 369.72 191.67 368.93 200.00 368.50 C208.33 368.07 215.83 367.67 225.00 367.40 C234.17 367.13 242.50 367.10 255.00 366.90 C267.50 366.70 287.50 366.60 300.00 366.20 C312.50 365.80 322.50 365.05 330.00 364.50 C337.50 363.95 340.83 363.47 345.00 362.90 C349.17 362.33 352.17 361.67 355.00 361.10 C357.83 360.53 360.00 360.00 362.00 359.50 C364.00 359.00 365.67 358.55 367.00 358.10 C368.33 357.65 369.00 357.37 370.00 356.80 C371.00 356.23 372.08 355.45 373.00 354.70 C373.92 353.95 374.58 353.35 375.50 352.30 C376.42 351.25 377.38 349.95 378.50 348.40 C379.62 346.85 381.00 345.15 382.25 343.00 C383.50 340.85 384.79 338.08 386.00 335.50 C387.21 332.92 388.35 330.08 389.50 327.50 C390.65 324.92 391.73 322.38 392.90 320.00 C394.07 317.62 395.32 315.37 396.50 313.20 C397.68 311.03 398.87 308.95 400.00 307.00 C401.13 305.05 402.27 303.17 403.30 301.50 C404.33 299.83 405.08 298.70 406.20 297.00 C407.32 295.30 408.53 293.37 410.00 291.30 C411.47 289.23 413.15 286.75 415.00 284.60 C416.85 282.45 419.43 279.80 421.10 278.40 C422.77 277.00 423.52 277.07 425.00 276.20 C426.48 275.33 428.33 274.17 430.00 273.20 C431.67 272.23 433.33 271.30 435.00 270.40 C436.67 269.50 438.33 268.63 440.00 267.80 C441.67 266.97 443.33 266.20 445.00 265.40 C446.67 264.60 448.33 263.75 450.00 263.00 C451.67 262.25 453.33 261.63 455.00 260.90 C456.67 260.17 458.33 259.48 460.00 258.60 C461.67 257.72 463.30 256.83 465.00 255.60 C466.70 254.37 468.62 252.58 470.20 251.20 C471.78 249.82 473.23 248.70 474.50 247.30 C475.77 245.90 476.38 244.60 477.80 242.80 C479.22 241.00 481.73 238.05 483.00 236.50 C484.27 234.95 483.90 235.38 485.40 233.50 C486.90 231.62 489.82 228.52 492.00 225.20 C494.18 221.88 496.28 217.47 498.50 213.60 C500.72 209.73 502.97 205.88 505.30 202.00 C507.63 198.12 510.07 194.13 512.50 190.30 C514.93 186.47 517.82 182.02 519.90 179.00 C521.98 175.98 523.32 174.32 525.00 172.20 C526.68 170.08 528.33 168.00 530.00 166.30 C531.67 164.60 533.33 163.38 535.00 162.00 C536.67 160.62 538.75 158.97 540.00 158.00 C541.25 157.03 541.50 156.85 542.50 156.20 C543.50 155.55 544.75 154.78 546.00 154.10 C547.25 153.42 548.48 152.82 550.00 152.10 C551.52 151.38 552.98 150.55 555.10 149.80 C557.22 149.05 560.18 148.22 562.70 147.60 C565.22 146.98 567.68 146.50 570.20 146.10 C572.72 145.70 575.28 145.53 577.80 145.20 C580.32 144.87 582.78 144.58 585.30 144.10 C587.82 143.62 590.37 143.12 592.90 142.30 C595.43 141.48 597.98 140.35 600.50 139.20 C603.02 138.05 605.48 136.77 608.00 135.40 C610.52 134.03 613.08 132.73 615.60 131.00 C618.12 129.27 620.58 127.07 623.10 125.00 C625.62 122.93 628.18 120.60 630.70 118.60 C633.22 116.60 636.17 114.42 638.20 113.00 C640.23 111.58 642.12 110.58 642.90 110.10" fill="none" stroke="#f40b0b" stroke-width="6.1" stroke-linecap="round" stroke-linejoin="round"/>
<text class="red" x="642.6" y="104.9" font-size="8.3" text-anchor="middle" textLength="22.4" lengthAdjust="spacingAndGlyphs">14795</text>
</svg>
</body></html>
